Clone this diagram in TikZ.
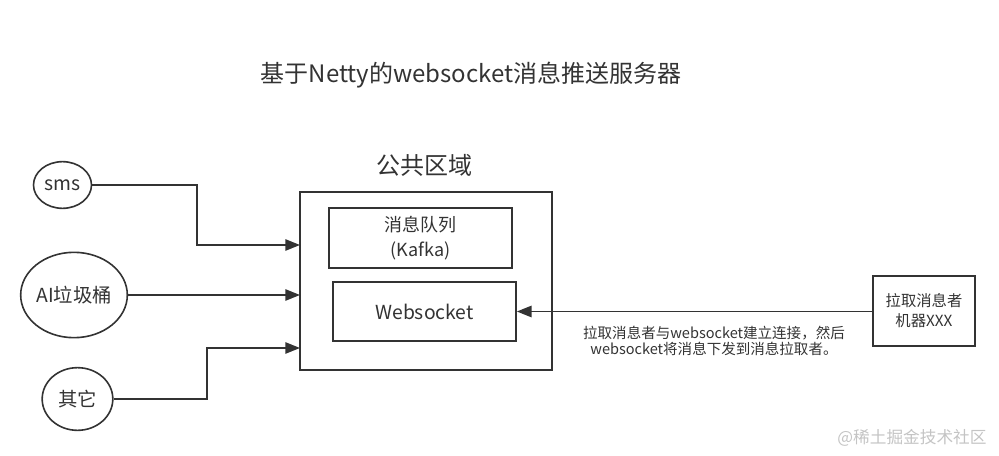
\documentclass[tikz,border=0pt]{standalone}
\usepackage{fontspec}
\setmainfont{Noto Sans CJK SC}
\usetikzlibrary{arrows.meta,shapes.geometric,positioning}
\definecolor{ink}{HTML}{333333}
\definecolor{wm}{HTML}{C4C4C4}
\tikzset{
  ell/.style={ellipse,draw=ink,line width=1.2pt,inner sep=0pt,text=ink,font=\fontsize{14.5}{16}\selectfont},
  boxx/.style={rectangle,draw=ink,line width=1.5pt,inner sep=0pt,text=ink,align=center},
  conn/.style={draw=ink,line width=1.2pt,-{Triangle[length=11pt,width=8.5pt]}},
}
\begin{document}
\begin{tikzpicture}[x=0.75pt,y=-0.75pt]
\useasboundingbox (0,0) rectangle (999,456);
% title
\node[text=ink,font=\fontsize{18}{20}\selectfont] (title) at (471,75) {基于Netty的websocket消息推送服务器};
% sources
\node[ell,minimum width=43.5pt,minimum height=35pt] (sms) at (62.5,185) {sms};
\node[ell,minimum width=73.5pt,minimum height=64pt] (ai) at (74,295) {AI垃圾桶};
\node[ell,minimum width=53pt,minimum height=47pt] (qt) at (77.5,399) {其它};
% public area
\node[text=ink,font=\fontsize{18}{20}\selectfont] (pubt) at (424,165) {公共区域};
\node[boxx,minimum width=189pt,minimum height=133.5pt] (outer) at (426,281) {};
\node[boxx,minimum width=137pt,minimum height=45pt,font=\fontsize{13.5}{18.5}\selectfont] (mq) at (420.5,238) {消息队列\\(Kafka)};
\node[boxx,minimum width=137pt,minimum height=44pt,font=\fontsize{14.5}{16}\selectfont] (ws) at (424.5,311.5) {Websocket};
% puller
\node[boxx,minimum width=76.5pt,minimum height=52.5pt,font=\fontsize{11.5}{15}\selectfont] (puller) at (924,311) {拉取消息者\\机器XXX};
% entry points on the outer box
\coordinate (o1) at (300,245);
\coordinate (o2) at (300,295);
\coordinate (o3) at (300,348);
\coordinate (k1) at (197,245);
\coordinate (k3) at (207,348);
% connectors
\draw[conn] (sms.east) -| (k1) -- (o1);
\draw[conn] (ai.east) -- (o2);
\draw[conn] (qt.east) -| (k3) -- (o3);
\draw[conn] (puller.west |- ws.east) -- (ws.east);
% annotation
\node[text=ink,align=center,font=\fontsize{10.9}{12.5}\selectfont] (note) at (714,341) {拉取消息者与websocket建立连接，然后\\websocket将消息下发到消息拉取者。};
% watermark
\node[text=wm,font=\fontsize{12.5}{14}\selectfont] (wmk) at (912,438) {@稀土掘金技术社区};
\end{tikzpicture}
\end{document}
